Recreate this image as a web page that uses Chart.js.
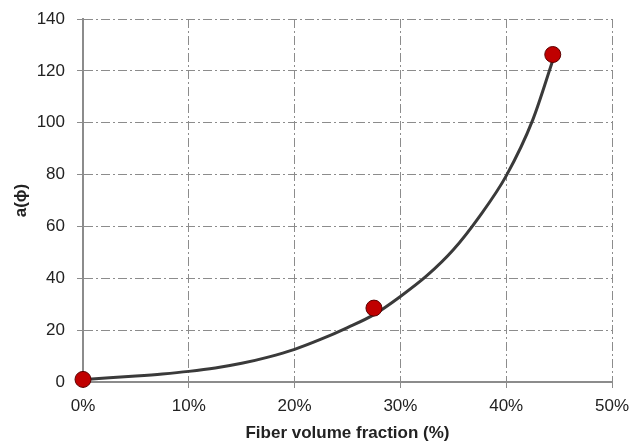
<!DOCTYPE html>
<html>
<head>
<meta charset="utf-8">
<script src="https://cdn.jsdelivr.net/npm/chart.js@4/dist/chart.umd.min.js"></script>
<style>
    html, body { margin: 0; padding: 0; background: #fff; }
    #wrap { width: 632px; height: 444px; }
</style>
</head>
<body>
<div id="wrap"><canvas id="fiberChart"></canvas></div>
<script>
// Dados
const measuredX = [0, 27.5, 44.4];
const measuredY = [1, 28.5, 126.3];

const curveX = [0, 2.5, 5, 7.5, 10, 12.5, 15, 17.5, 20, 22.5, 25, 27.5, 30, 32.5, 35, 37.5, 40, 42.5, 44.4];
const curveY = [1, 1.6, 2.3, 3.1, 4.1, 5.4, 7.2, 9.6, 12.6, 16.5, 21, 26, 33, 41, 51, 64, 79.5, 101, 124];

const xTicks = [0, 10, 20, 30, 40, 50];
const yTicks = [0, 20, 40, 60, 80, 100, 120, 140];

const gridColor = '#8c8c8c';
const tickFont = { family: 'Liberation Sans', size: 17 };
const titleFont = { family: 'Liberation Sans', size: 17, weight: 'bold' };

const ctx = document.getElementById('fiberChart').getContext('2d');
new Chart(ctx, {
    type: 'scatter',
    data: {
        datasets: [{
            label: 'Medidos',
            data: measuredX.map((x, i) => ({ x: x, y: measuredY[i] })),
            backgroundColor: '#c00000',
            borderColor: '#5a0000',
            borderWidth: 1,
            pointRadius: 8,
            clip: false,
            order: 0
        }, {
            label: 'Curva',
            data: curveX.map((x, i) => ({ x: x, y: curveY[i] })),
            showLine: true,
            borderColor: '#3a3a3a',
            borderWidth: 3,
            pointRadius: 0,
            cubicInterpolationMode: 'monotone',
            clip: false,
            order: 1
        }]
    },
    options: {
        responsive: true,
        maintainAspectRatio: false,
        animation: false,
        layout: { padding: { left: 0, right: 20, top: 19, bottom: 0 } },
        plugins: {
            legend: { display: false },
            tooltip: { enabled: false }
        },
        scales: {
            x: {
                type: 'linear',
                min: 0,
                max: 50,
                afterBuildTicks: (scale) => { scale.ticks = xTicks.map(v => ({ value: v })); },
                afterFit: (scale) => {
                    scale.height = 62;
                    scale.paddingLeft = 0;
                    scale.paddingRight = 0;
                },
                ticks: {
                    callback: (v) => v + '%',
                    color: '#222',
                    font: tickFont,
                    padding: 8
                },
                grid: { color: gridColor, lineWidth: 1, tickLength: 6 },
                border: { color: '#8c8c8c', width: 2, dash: [9, 3, 2, 3] },
                title: {
                    display: true,
                    text: 'Fiber volume fraction (%)',
                    color: '#222',
                    font: titleFont,
                    padding: { top: 0, bottom: 0 }
                }
            },
            y: {
                min: 0,
                max: 140,
                afterBuildTicks: (scale) => { scale.ticks = yTicks.map(v => ({ value: v })); },
                afterFit: (scale) => {
                    scale.width = 83;
                    scale.paddingTop = 0;
                    scale.paddingBottom = 0;
                },
                ticks: {
                    color: '#222',
                    font: tickFont,
                    padding: 12
                },
                grid: { color: gridColor, lineWidth: 1, tickLength: 6 },
                border: { color: '#8c8c8c', width: 2, dash: [9, 3, 2, 3] },
                title: {
                    display: true,
                    text: 'a(ϕ)',
                    color: '#222',
                    font: titleFont,
                    padding: { top: 11, bottom: 0 }
                }
            }
        }
    }
});
</script>
</body>
</html>
